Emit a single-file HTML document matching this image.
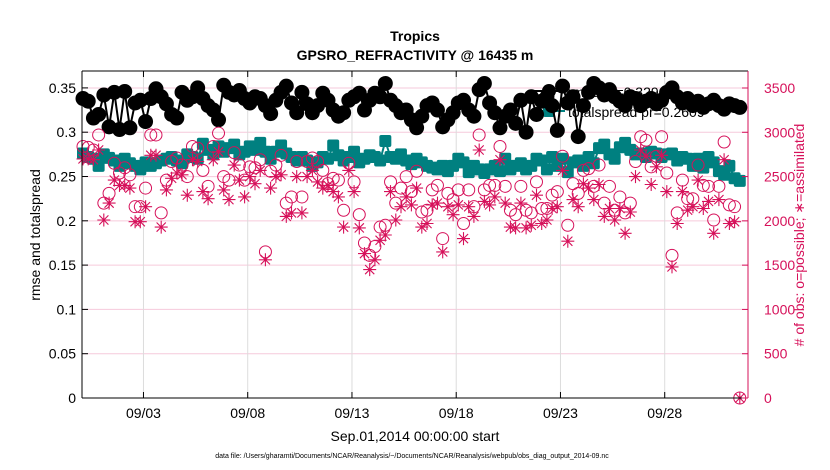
<!DOCTYPE html>
<html><head><meta charset="utf-8"><style>
html,body{margin:0;padding:0;background:#fff;}
svg{display:block;font-family:"Liberation Sans",sans-serif;}
</style></head><body>
<svg id="chart" width="830" height="470" viewBox="0 0 830 470">
<text x="415" y="41" text-anchor="middle" font-size="14" font-weight="bold">Tropics</text>
<text x="415" y="60" text-anchor="middle" font-size="14" font-weight="bold">GPSRO_REFRACTIVITY @ 16435 m</text>
<g id="grid"></g>
<g id="legend">
<line x1="533" y1="91" x2="565" y2="91" stroke="#000" stroke-width="2"/>
<circle cx="549" cy="91" r="7" fill="#000"/>
<text x="568" y="97" font-size="14">rmse pr=0.3290</text>
<line x1="533" y1="111" x2="565" y2="111" stroke="#008080" stroke-width="2"/>
<rect x="543" y="105" width="12" height="12" rx="2" fill="#008080"/>
<text x="568" y="117" font-size="14">totalspread pr=0.2609</text>
</g>
<g id="marks"></g>
<g id="axes"></g>
<text transform="translate(40,235) rotate(-90)" text-anchor="middle" font-size="14">rmse and totalspread</text>
<text transform="translate(804,235) rotate(-90)" text-anchor="middle" font-size="14" fill="#d6115a"># of obs: o=possible; ∗=assimilated</text>
<text x="415" y="441" text-anchor="middle" font-size="14">Sep.01,2014 00:00:00 start</text>
<text x="412" y="458" text-anchor="middle" font-size="7">data file: /Users/gharamti/Documents/NCAR/Reanalysis/~/Documents/NCAR/Reanalysis/webpub/obs_diag_output_2014-09.nc</text>
</svg>
<script>
const xTickLabels = ["09/03","09/08","09/13","09/18","09/23","09/28"];
const xTickDays = [2.9,7.9,12.9,17.9,22.9,27.9];
const yLeftTicks = [0,0.05,0.1,0.15,0.2,0.25,0.3,0.35];
const yRightTicks = [0,500,1000,1500,2000,2500,3000,3500];
const rmse = [.338,.335,.316,.320,.342,.306,.345,.303,.346,.305,.333,.336,.312,.338,.349,.340,.332,.320,.316,.345,.336,.340,.350,.338,.330,.325,.314,.353,.345,.342,.347,.338,.333,.340,.338,.330,.321,.336,.345,.352,.333,.322,
.345,.332,.322,.330,.344,.336,.325,.318,.322,.336,.340,.344,.325,.336,.344,.340,.355,.336,.330,.322,.325,.314,.305,.318,.330,.333,.325,.306,.314,.322,.333,.336,.325,.318,.348,.355,.333,.322,.305,.318,.325,.310,
.336,.300,.340,.320,.335,.340,.330,.302,.352,.333,.340,.295,.330,.345,.355,.350,.342,.348,.340,.335,.330,.340,.338,.330,.335,.338,.332,.336,.345,.350,.340,.333,.338,.330,.335,.328,.332,.336,.330,.326,.332,.330,.328];
const spread = [.276,.272,.270,.262,.275,.271,.268,.262,.270,.265,.262,.258,.266,.262,.265,.268,.270,.272,.268,.265,.275,.272,.270,.287,.280,.275,.284,.278,.282,.286,.275,.278,.284,.280,.288,.278,.270,.278,.285,.276,.272,.268,
.272,.268,.262,.266,.272,.270,.285,.274,.268,.272,.278,.266,.270,.274,.272,.268,.290,.272,.270,.275,.268,.264,.270,.266,.262,.260,.258,.262,.256,.262,.270,.266,.255,.262,.258,.254,.258,.262,.256,.270,.258,.262,
.265,.258,.262,.270,.268,.258,.272,.262,.270,.255,.266,.268,.262,.272,.265,.282,.286,.275,.270,.283,.288,.280,.275,.276,.272,.278,.276,.272,.275,.276,.268,.272,.270,.262,.270,.260,.272,.266,.256,.252,.262,.248,.245];
const possible = [2840,2830,2800,2970,2200,2310,2650,2540,2600,2520,2160,2160,2370,2970,2970,2090,2460,2670,2710,2630,2500,2840,2820,2570,2390,2840,2990,2500,2460,2770,2630,2460,2610,2600,2690,1650,2560,2630,2740,2200,2270,2670,
2270,2670,2710,2670,2570,2420,2480,2460,2120,2650,2440,2070,1750,1610,1710,1930,1950,2440,2200,2370,2500,2330,2560,2100,2120,2350,2400,1800,2310,2240,2350,1970,2350,2160,2970,2350,2400,2400,2840,2390,2120,2070,
2390,2120,2090,2440,2140,2140,2290,2330,2730,1950,2420,2310,2570,2590,2390,2630,2200,2390,2120,2270,2090,2200,2670,2950,2910,2610,2730,2950,2540,1610,2090,2460,2250,2250,2630,2400,2390,2010,2390,2890,2180,2160,0];
const assimilated = [2700,2700,2690,2800,2010,2200,2460,2400,2400,2370,1990,1990,2160,2740,2740,1930,2350,2480,2540,2520,2290,2690,2670,2330,2250,2690,2780,2350,2240,2630,2460,2270,2500,2420,2570,1560,2370,2500,2520,2050,2090,2500,
2090,2500,2570,2440,2370,2400,2330,2270,1930,2570,2330,1920,1630,1450,1560,1780,1840,2330,2010,2160,2270,2180,2370,1930,1970,2180,2200,1650,2160,2070,2180,1800,2160,2050,2800,2220,2180,2270,2690,2200,1930,1920,
2200,1920,1950,2290,1970,2010,2140,2160,2570,1770,2240,2160,2420,2370,2240,2410,2050,2140,2010,2140,1860,2100,2500,2800,2730,2410,2610,2740,2330,1480,1970,2330,2120,2160,2460,2140,2220,1860,2240,2690,1970,1990,0];

const NS="http://www.w3.org/2000/svg";
const X0=82,X1=748,Y0=398,YT=71;
const PINK="#d6115a",TEAL="#008080";
const dayStep=0.25, pxPerDay=20.85, xStart=83;
function xOfIndex(i){return xStart+i*dayStep*pxPerDay;}
function xOfDay(d){return xStart+d*pxPerDay;}
function yL(v){return Y0-v*886;}
function yR(v){return Y0-v*310/3500;}
function mk(tag,attrs,parent){const e=document.createElementNS(NS,tag);for(const k in attrs)e.setAttribute(k,attrs[k]);parent.appendChild(e);return e;}
const grid=document.getElementById('grid'),marks=document.getElementById('marks'),axes=document.getElementById('axes');

yRightTicks.forEach((t,i)=>{
  const l=mk('line',{x1:X0,x2:X1,y1:yR(t),y2:yR(t),stroke:'#f6cadb','stroke-width':1},grid);
  
  
});
xTickDays.forEach((d,i)=>{
  const x=xOfDay(d);
  const l=mk('line',{x1:x,x2:x,y1:YT,y2:Y0,stroke:'#dcdcdc','stroke-width':1},grid);
  
  
});

// rmse line + markers
let p='';rmse.forEach((v,i)=>{p+=(i?'L':'M')+xOfIndex(i).toFixed(1)+','+yL(v).toFixed(1);});
const rl=mk('path',{d:p,fill:'none',stroke:'#000','stroke-width':2},marks);


rmse.forEach((v,i)=>{
  const c=mk('circle',{cx:xOfIndex(i),cy:yL(v),r:7.5,fill:'#000'},marks);
  
  
});
// spread
p='';spread.forEach((v,i)=>{p+=(i?'L':'M')+xOfIndex(i).toFixed(1)+','+yL(v).toFixed(1);});
const sl=mk('path',{d:p,fill:'none',stroke:TEAL,'stroke-width':2},marks);


spread.forEach((v,i)=>{
  const r=mk('rect',{x:xOfIndex(i)-6,y:yL(v)-6,width:12,height:12,rx:2,fill:TEAL},marks);
  
  
});
// obs possible
possible.forEach((v,i)=>{
  const c=mk('circle',{cx:xOfIndex(i),cy:yR(v),r:6,fill:'none',stroke:PINK,'stroke-width':1},marks);
  
  
});
// assimilated asterisks
assimilated.forEach((v,i)=>{
  const x=xOfIndex(i),y=yR(v),r=6.5;let d='';
  for(let k=0;k<4;k++){const a=k*Math.PI/4+Math.PI/2;const dx=r*Math.cos(a),dy=r*Math.sin(a);d+='M'+(x-dx).toFixed(1)+','+(y-dy).toFixed(1)+'L'+(x+dx).toFixed(1)+','+(y+dy).toFixed(1);}
  const s=mk('path',{d:d,stroke:PINK,'stroke-width':1.1,fill:'none'},marks);
  
  
});

// axes
mk('line',{x1:X0,x2:X1,y1:YT,y2:YT,stroke:'#000','stroke-width':1},axes);
mk('line',{x1:X0,x2:X1,y1:Y0,y2:Y0,stroke:'#000','stroke-width':1},axes);
mk('line',{x1:X0,x2:X0,y1:YT,y2:Y0,stroke:'#000','stroke-width':1},axes);
mk('line',{x1:X1,x2:X1,y1:YT,y2:Y0,stroke:PINK,'stroke-width':1},axes);
yLeftTicks.forEach((t,i)=>{
  const y=yL(t);
  mk('line',{x1:X0,x2:X0+6,y1:y,y2:y,stroke:'#000'},axes);
  const tx=mk('text',{x:X0-6,y:y+5,'text-anchor':'end','font-size':14},axes);
  tx.textContent=String(t);
  
  
});
yRightTicks.forEach((t,i)=>{
  const y=yR(t);
  mk('line',{x1:X1-6,x2:X1,y1:y,y2:y,stroke:PINK},axes);
  const tx=mk('text',{x:X1+16,y:y+5,'font-size':14,fill:PINK},axes);
  tx.textContent=String(t);
  
  
});
xTickDays.forEach((d,i)=>{
  const x=xOfDay(d);
  mk('line',{x1:x,x2:x,y1:Y0-6,y2:Y0,stroke:'#000'},axes);
  mk('line',{x1:x,x2:x,y1:YT,y2:YT+6,stroke:'#000'},axes);
  const tx=mk('text',{x:x,y:Y0+20,'text-anchor':'middle','font-size':14},axes);
  tx.textContent=xTickLabels[i];
  
  
});
</script>
</body></html>
